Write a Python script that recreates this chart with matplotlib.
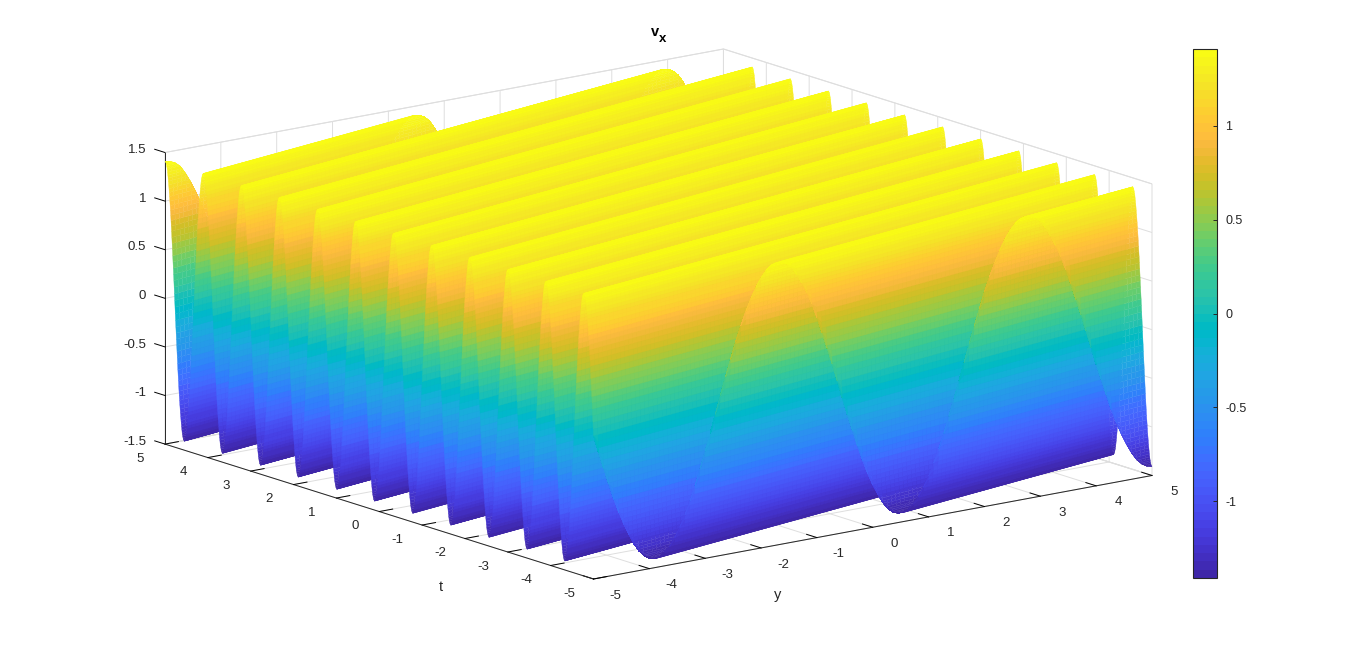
# =============================================================================
# v_x SURFACE OVER (y, t) WITH PARULA COLOURS
# =============================================================================

import matplotlib
matplotlib.use("Agg")

import matplotlib.pyplot as plt
import numpy as np

from matplotlib.axes import Axes
from matplotlib.cm import ScalarMappable
from matplotlib.colors import ListedColormap, Normalize
from mpl_toolkits.mplot3d import proj3d

# =============================================================================
# DATA
# =============================================================================

y_ticks = [-5, -4, -3, -2, -1, 0, 1, 2, 3, 4, 5]
t_ticks = [-5, -4, -3, -2, -1, 0, 1, 2, 3, 4, 5]
z_ticks = [-1.5, -1, -0.5, 0, 0.5, 1, 1.5]
z_tick_labels = ["-1.5", "-1", "-0.5", "0", "0.5", "1", "1.5"]
cbar_ticks = [-1, -0.5, 0, 0.5, 1]
cbar_tick_labels = ["-1", "-0.5", "0", "0.5", "1"]

# t of each trough, carried back along the ridge to y = -5
trough_t = [-7.89, -7.00, -6.10, -5.22, -4.33, -3.45, -2.56, -1.67, -0.78,
            0.11, 0.99, 1.89, 2.77, 3.66, 4.55, 5.44]

# ridges lean this much in t per unit of y
ridge_lean = 0.2

# height of the wave from trough to crest (half a period, mirrored below)
half_wave_z = [-1.41, -1.39, -1.33, -1.22, -1.08, -0.91, -0.71, -0.48, -0.25,
               0.0, 0.25, 0.48, 0.71, 0.91, 1.08, 1.22, 1.33, 1.39, 1.41]

z_limit = 1.41

parula_colors = [
    (.2422, .1504, .6603), (.2504, .1650, .7076), (.2578, .1818, .7511),
    (.2647, .1978, .7952), (.2706, .2147, .8364), (.2751, .2342, .8710),
    (.2783, .2559, .8991), (.2803, .2782, .9221), (.2813, .3006, .9414),
    (.2810, .3228, .9579), (.2795, .3447, .9717), (.2760, .3667, .9829),
    (.2699, .3892, .9906), (.2602, .4123, .9952), (.2440, .4358, .9988),
    (.2206, .4603, .9973), (.1963, .4847, .9892), (.1834, .5074, .9798),
    (.1786, .5289, .9682), (.1764, .5499, .9520), (.1687, .5703, .9359),
    (.1540, .5902, .9218), (.1460, .6091, .9079), (.1380, .6276, .8973),
    (.1248, .6459, .8883), (.1113, .6635, .8763), (.0952, .6798, .8598),
    (.0689, .6948, .8394), (.0297, .7082, .8163), (.0036, .7203, .7917),
    (.0067, .7312, .7660), (.0433, .7411, .7394), (.0964, .7500, .7120),
    (.1408, .7584, .6842), (.1717, .7670, .6554), (.1938, .7758, .6251),
    (.2161, .7843, .5923), (.2470, .7918, .5567), (.2906, .7973, .5188),
    (.3406, .8008, .4789), (.3909, .8029, .4354), (.4456, .8024, .3909),
    (.5044, .7993, .3480), (.5616, .7942, .3045), (.6174, .7876, .2612),
    (.6720, .7793, .2227), (.7242, .7698, .1910), (.7738, .7598, .1646),
    (.8203, .7498, .1535), (.8634, .7406, .1596), (.9035, .7330, .1774),
    (.9393, .7288, .2100), (.9728, .7298, .2394), (.9956, .7434, .2371),
    (.9970, .7659, .2199), (.9952, .7893, .2028), (.9892, .8136, .1885),
    (.9786, .8386, .1766), (.9676, .8639, .1643), (.9610, .8890, .1537),
    (.9597, .9135, .1423), (.9628, .9373, .1265), (.9691, .9606, .1064),
    (.9769, .9839, .0805),
]

# =============================================================================
# STYLE
# =============================================================================

plt.rcParams["font.family"] = ["Liberation Sans", "DejaVu Sans"]

TEXT_GREY = (0.15, 0.15, 0.15)
GRID_GREY = (0.87, 0.87, 0.87)
FIG_W, FIG_H = 1366, 651

parula = ListedColormap(parula_colors)

# =============================================================================
# BUILD THE SURFACE
# =============================================================================

# mesh rows follow the ridges so the colour bands stay straight
y_grid = np.linspace(-5, 5, 111)
ridge_grid = np.linspace(-7, 5, 1801)
Y, U = np.meshgrid(y_grid, ridge_grid)
T = np.clip(U + ridge_lean * (Y + 5), -5, 5)

wave_z = np.array(half_wave_z + half_wave_z[-2::-1])
wave_phase = np.linspace(0, 1, len(wave_z))

along_ridge = T - ridge_lean * (Y + 5)
phase = np.interp(along_ridge, trough_t, np.arange(len(trough_t))) % 1
Z = np.interp(phase, wave_phase, wave_z)

# =============================================================================
# FIGURE AND 3D AXES
# =============================================================================

fig = plt.figure(figsize=(FIG_W / 100, FIG_H / 100), dpi=100)
ax = fig.add_axes([0.1, 0.1, 0.8, 0.8], projection="3d")

# the box is stretched to fill the axes, not kept square
ax.apply_aspect = lambda position=None: None

ax.set_proj_type("ortho")
ax.view_init(elev=30, azim=-127.5)
ax.set_box_aspect((1, 1, 0.99))
ax.set_xlim(-5, 5, view_margin=0)
ax.set_ylim(-5, 5, view_margin=0)
ax.set_zlim(-1.5, 1.5, view_margin=0)

surf = ax.plot_surface(
    Y, T, Z,
    rstride=1,
    cstride=1,
    cmap=parula,
    vmin=-z_limit,
    vmax=z_limit,
    linewidth=0.25,
    antialiased=True,
    shade=False
)
surf.set_edgecolor("face")

ax.set_xticks(y_ticks)
ax.set_yticks(t_ticks)
ax.set_zticks(z_ticks)
ax.set_xticklabels([])
ax.set_yticklabels([])
ax.set_zticklabels([])

# z ticks point along +t, as in the reference
ax.zaxis._get_tickdir = lambda pos: 1

for axis in (ax.xaxis, ax.yaxis, ax.zaxis):
    axis.set_pane_color((1, 1, 1, 1))
    axis.pane.set_edgecolor(GRID_GREY)
    axis.pane.set_linewidth(0.7)
    axis.line.set_color(TEXT_GREY)
    axis.line.set_linewidth(0.7)
    axis._axinfo["grid"].update(color=GRID_GREY, linewidth=0.7)
    axis._axinfo["tick"].update(inward_factor=0.0, outward_factor=0.3)
    axis._axinfo["tick"]["linewidth"] = {True: 0.7, False: 0.7}
    axis._axinfo["tick"]["color"] = TEXT_GREY

# =============================================================================
# PLACE THE BOX: LEFT 165, RIGHT 1152, TOP 49, BOTTOM 579 (PIXELS)
# =============================================================================

proj = ax.get_proj()
sx_left, _, _ = proj3d.proj_transform(-5, 5, -1.5, proj)
sx_right, _, _ = proj3d.proj_transform(5, -5, -1.5, proj)
_, sy_top, _ = proj3d.proj_transform(5, 5, 1.5, proj)
_, sy_bottom, _ = proj3d.proj_transform(-5, -5, -1.5, proj)

x_lo, x_hi = Axes.get_xlim(ax)
y_lo, y_hi = Axes.get_ylim(ax)

px_per_x = (1152 - 165) / (sx_right - sx_left)
px_per_y = (579 - 49) / (sy_top - sy_bottom)

ax_w = px_per_x * (x_hi - x_lo)
ax_h = px_per_y * (y_hi - y_lo)
ax_x = 165 - (sx_left - x_lo) * px_per_x
ax_y = (FIG_H - 579) - (sy_bottom - y_lo) * px_per_y

ax.set_position([ax_x / FIG_W, ax_y / FIG_H, ax_w / FIG_W, ax_h / FIG_H])

# =============================================================================
# TICK LABELS: FIGURE TEXT AT THE SCREEN POSITION OF A DATA POINT
# =============================================================================

def box_text(x, y, z, label, ha="center"):

    sx, sy, _ = proj3d.proj_transform(x, y, z, proj)
    px, py = ax.transData.transform((sx, sy))
    fig.text(px / FIG_W, py / FIG_H, label, fontsize=9.5, color=TEXT_GREY,
             ha=ha, va="center")


for value in y_ticks:
    box_text(value, -5.51, -1.60, str(value))

for value in t_ticks:
    box_text(-5.44, value, -1.605, str(value))

for value, label in zip(z_ticks, z_tick_labels):
    box_text(-5, 5.44, value - 0.038, label, ha="right")

# =============================================================================
# TITLE, AXIS NAMES AND COLOURBAR
# =============================================================================

fig.text(655 / FIG_W, 1 - 32 / FIG_H, "v", fontsize=10.5, fontweight="bold",
         color="black", ha="center", va="center")
fig.text(663 / FIG_W, 1 - 39 / FIG_H, "x", fontsize=9.5, fontweight="bold",
         color="black", ha="center", va="center")

fig.text(441 / FIG_W, 1 - 587 / FIG_H, "t", fontsize=10.5, color=TEXT_GREY,
         ha="center", va="center")
fig.text(778 / FIG_W, 1 - 595 / FIG_H, "y", fontsize=10.5, color=TEXT_GREY,
         ha="center", va="center")

cax = fig.add_axes([
    1192.5 / FIG_W,
    (FIG_H - 578) / FIG_H,
    24.5 / FIG_W,
    529 / FIG_H
])

cbar = fig.colorbar(
    ScalarMappable(norm=Normalize(-z_limit, z_limit), cmap=parula),
    cax=cax
)
cbar.set_ticks(cbar_ticks)
cbar.set_ticklabels(cbar_tick_labels)
cbar.ax.tick_params(direction="in", length=3, width=0.7, labelsize=9,
                    colors=TEXT_GREY, pad=6)
cbar.outline.set_edgecolor(TEXT_GREY)
cbar.outline.set_linewidth(0.8)

fig.savefig("out.png", dpi=100)
